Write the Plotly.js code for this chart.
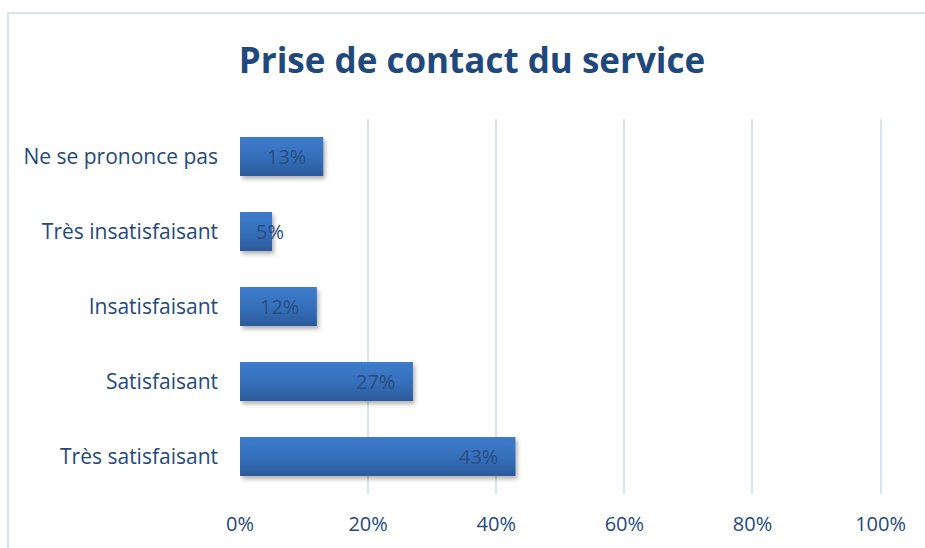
<!DOCTYPE html>
<html>
<head>
<meta charset="utf-8">
<script src="https://cdn.plot.ly/plotly-3.0.1.min.js"></script>
<style>
html,body{margin:0;padding:0;background:#fff;}
#chart{width:925px;height:548px;}
</style>
</head>
<body>
<div id="chart"></div>
<script>
// Data (bottom to top in Plotly order)
const categories = ["Très satisfaisant", "Satisfaisant", "Insatisfaisant", "Très insatisfaisant", "Ne se prononce pas"];
const values = [0.43, 0.27, 0.12, 0.05, 0.13];
const labels = ["43%", "27%", "12%", "5%", "13%"];
const xTickVals = [0, 0.2, 0.4, 0.6, 0.8, 1.0];
const xTickText = ["0%", "20%", "40%", "60%", "80%", "100%"];
const chartTitle = "Prise de contact du service";

const FONT = "'Open Sans', sans-serif";
const TXT = "#1f497d";
const xMax = 1.01;
const plotL = 240, plotT = 119, plotB = 54;
const plotW = Math.round(641 * xMax);
const plotR = 925 - plotL - plotW;
const pxPerUnit = plotW / xMax;

const annotations = values.map((v, i) => {
  const endPx = v * pxPerUnit;
  const center = Math.max(endPx - 37, 30);
  return {
    x: v, y: categories[i], xref: "x", yref: "y",
    text: labels[i], showarrow: false,
    xanchor: "center", xshift: center - endPx,
    font: {family: FONT, size: 20, color: "#2a4d80"}
  };
});

const trace = {
  type: "bar", orientation: "h",
  y: categories, x: values,
  marker: {color: "#3566ad", line: {width: 0}},
  hoverinfo: "none"
};

const layout = {
  width: 925, height: 548,
  margin: {l: plotL, r: plotR, t: plotT, b: plotB},
  paper_bgcolor: "#fff", plot_bgcolor: "#fff",
  showlegend: false,
  bargap: 0.48,
  title: {
    text: "<b>" + chartTitle + "</b>",
    x: 472 / 925, xref: "container", xanchor: "center",
    y: 1 - 61 / 548, yref: "container", yanchor: "middle",
    font: {family: FONT, size: 35, color: TXT}
  },
  xaxis: {
    range: [0, xMax], tickvals: xTickVals, ticktext: xTickText,
    showgrid: true, gridcolor: "#d9e4f3", gridwidth: 2,
    zeroline: false, showline: false, ticks: "",
    ticklabelstandoff: 16,
    tickfont: {family: FONT, size: 20, color: TXT},
    fixedrange: true
  },
  yaxis: {
    categoryorder: "array", categoryarray: categories,
    showgrid: false, zeroline: false, showline: false, ticks: "",
    ticklabelstandoff: 21,
    tickfont: {family: FONT, size: 21, color: TXT},
    fixedrange: true
  },
  annotations: annotations,
  shapes: [{
    type: "rect", xref: "paper", yref: "paper",
    x0: (8 - plotL) / plotW, x1: 1.3,
    y0: -0.3, y1: 1 + (plotT - 13) / (548 - plotT - plotB),
    line: {color: "#d6e3f3", width: 2}, fillcolor: "rgba(0,0,0,0)", layer: "below"
  }]
};

Plotly.newPlot("chart", [trace], layout, {displayModeBar: false, staticPlot: true}).then(gd => {
  const svg = gd.querySelector("svg.main-svg");
  const ns = "http://www.w3.org/2000/svg";
  let defs = svg.querySelector("defs");
  if (!defs) { defs = document.createElementNS(ns, "defs"); svg.insertBefore(defs, svg.firstChild); }
  const g = document.createElementNS(ns, "linearGradient");
  g.setAttribute("id", "barGrad");
  g.setAttribute("x1", "0"); g.setAttribute("y1", "0"); g.setAttribute("x2", "0"); g.setAttribute("y2", "1");
  [["0", "#3d7ccb"], ["0.5", "#3670bc"], ["1", "#2c5a9b"]].forEach(([o, c]) => {
    const s = document.createElementNS(ns, "stop");
    s.setAttribute("offset", o); s.setAttribute("stop-color", c);
    g.appendChild(s);
  });
  defs.appendChild(g);
  gd.querySelectorAll(".barlayer .point path").forEach(p => {
    p.style.fill = "url(#barGrad)";
    p.style.filter = "drop-shadow(2px 3px 2px rgba(0,0,0,0.3))";
  });
});
</script>
</body>
</html>
